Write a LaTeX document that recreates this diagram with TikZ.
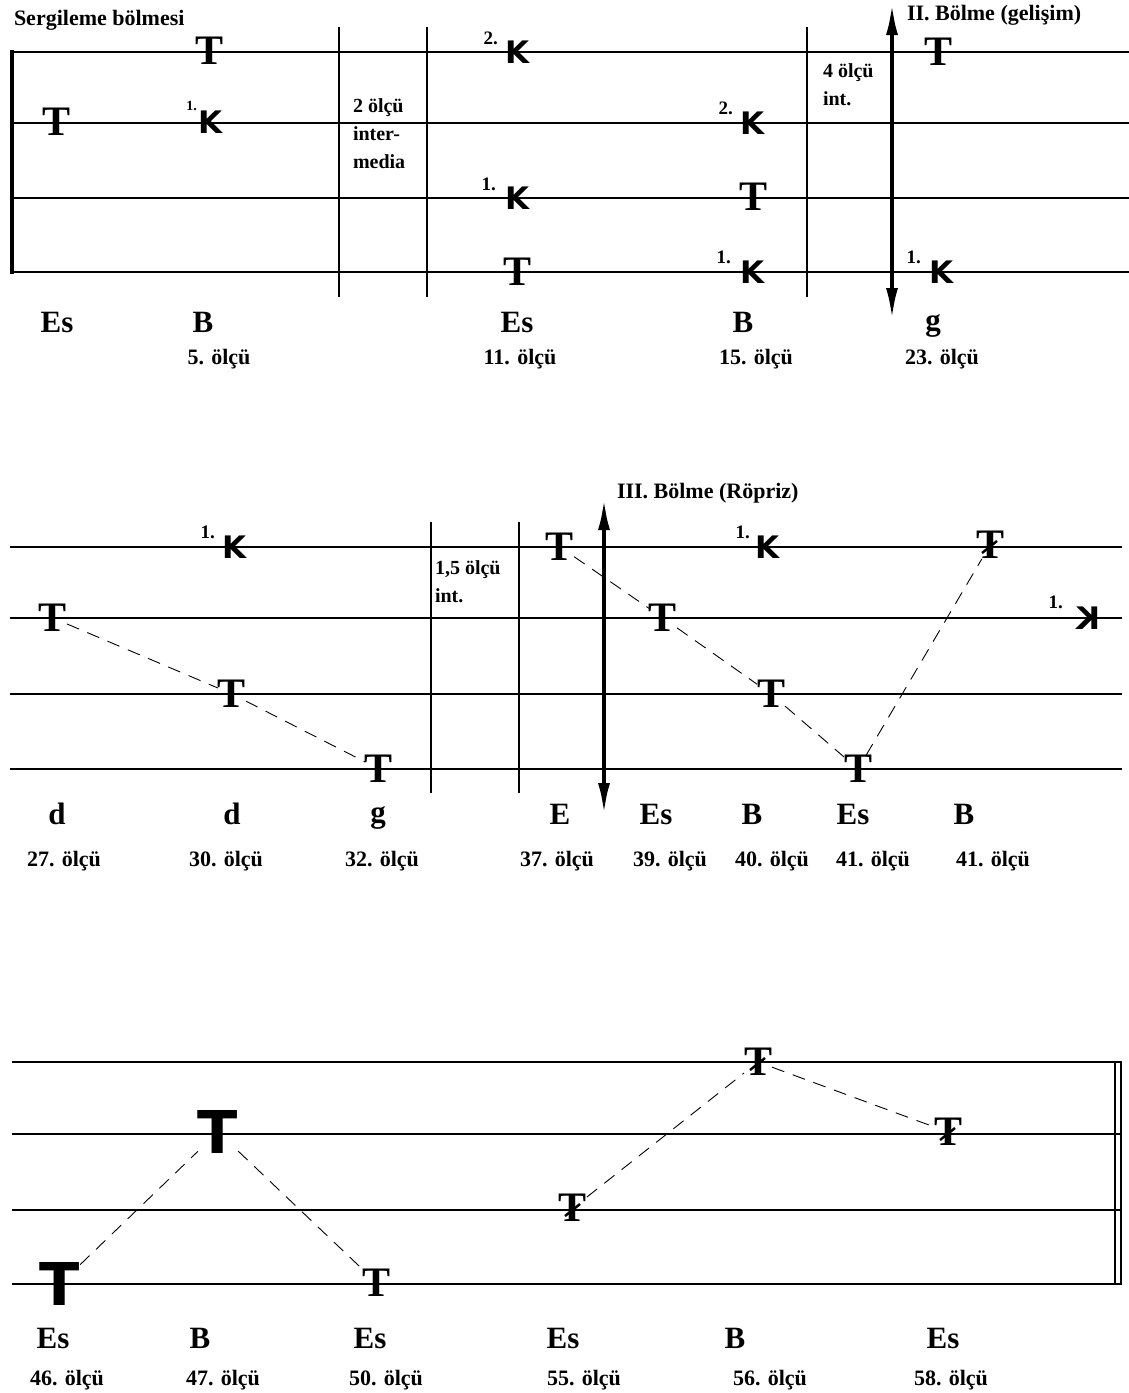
\documentclass[tikz,border=0pt]{standalone}
\usepackage{fontspec}
\setmainfont{Liberation Serif}
\setsansfont{Liberation Sans}
\newfontfamily\heavyfont{DejaVu Sans}
\usetikzlibrary{positioning,arrows.meta}

\begin{document}
\begin{tikzpicture}[x=1pt,y=-1pt,every node/.style={inner sep=0pt,outer sep=0pt},
				tone/.style={font=\fontsize{42}{42}\selectfont\bfseries},
				bigtone/.style={font=\heavyfont\fontsize{59}{59}\selectfont\bfseries},
				keyK/.style={font=\heavyfont\fontsize{31}{31}\selectfont\bfseries},
				ord/.style={font=\fontsize{19}{19}\selectfont\bfseries},
				tonal/.style={font=\fontsize{31}{31}\selectfont\bfseries,anchor=base},
				olcu/.style={font=\fontsize{22}{22}\selectfont\bfseries,anchor=base},
				remark/.style={font=\fontsize{20}{28}\selectfont\bfseries,align=left,anchor=north west},
				title/.style={font=\fontsize{22}{22}\selectfont\bfseries,anchor=base west},
				staff/.style={line width=1.4pt},
				vline/.style={line width=1.1pt},
				divide/.style={line width=4pt,{Latex[length=32pt,width=12pt]}-{Latex[length=32pt,width=12pt]}},
				link/.style={line width=0.9pt,dash pattern=on 13pt off 9pt},
				slash/.style={line width=2.4pt}]
				\useasboundingbox (0,0) rectangle (1129,1393);

				% staves
				\draw[staff] (12,52)   -- (1129,52);
				\draw[staff] (12,123)  -- (1129,123);
				\draw[staff] (12,198)  -- (1129,198);
				\draw[staff] (12,272)  -- (1129,272);
				\draw[staff] (10,547)  -- (1122,547);
				\draw[staff] (10,618)  -- (1122,618);
				\draw[staff] (10,694)  -- (1122,694);
				\draw[staff] (10,769)  -- (1122,769);
				\draw[staff] (12,1062) -- (1121,1062);
				\draw[staff] (12,1134) -- (1121,1134);
				\draw[staff] (12,1210) -- (1121,1210);
				\draw[staff] (12,1284) -- (1121,1284);
				\draw[line width=4pt] (12,50) -- (12,274);
				\draw[line width=1.5pt] (1115,1062) -- (1115,1284);
				\draw[line width=2.6pt] (1121,1061) -- (1121,1285);
				\draw[vline] (339,27) -- (339,297) (427,27) -- (427,297) (807,27) -- (807,297);
				\draw[vline] (431,522) -- (431,793) (519,522) -- (519,793);

				% section arrows
				\coordinate (UPA) at (892,3);
				\coordinate (DNA) at (892,320);
				\coordinate (UPB) at (604,498);
				\coordinate (DNB) at (604,815);
				\draw[divide] (DNA) -- (UPA);
				\draw[divide] (DNB) -- (UPB);

				\node (SB)   [title] at (14,25)  {Sergileme bölmesi};
				\node (DEV)  [title] at (907,20) {II. Bölme (gelişim)};
				\node (REC)  [title] at (617,498) {III. Bölme (Röpriz)};
				\node (INA)  [remark] at (353,99) {2 ölçü\\inter-\\media};
				\node (INB)  [remark] at (823,64) {4 ölçü\\int.};
				\node (INC)  [remark] at (435,561) {1,5 ölçü\\int.};

				% first row
				\node (T1)  [tone] at (57,122)  {T};
				\node (T2)  [tone] at (210,51)  {T};
				\node (K1)  [keyK] at (211,122) {K};
				\node (N1)  [ord,font=\fontsize{14}{14}\selectfont\bfseries,above left=0pt and 2pt of K1] {1.};
				\node (K2)  [keyK] at (518,52)  {K};
				\node (N2)  [ord,above left=-4pt and 8pt of K2] {2.};
				\node (K3)  [keyK] at (518,198) {K};
				\node (N3)  [ord,above left=-4pt and 10pt of K3] {1.};
				\node (T3)  [tone] at (518,272) {T};
				\node (K4)  [keyK] at (753,123) {K};
				\node (N4)  [ord,above left=-3pt and 8pt of K4] {2.};
				\node (T4)  [tone] at (753,197) {T};
				\node (K5)  [keyK] at (753,272) {K};
				\node (N5)  [ord,above left=-3pt and 10pt of K5] {1.};
				\node (T5)  [tone] at (938,52)  {T};
				\node (K6)  [keyK] at (942,272) {K};
				\node (N6)  [ord,above left=-3pt and 9pt of K6] {1.};

				\node (L1)  [tonal] at (57,332)  {Es};
				\node (L2)  [tonal] at (203,332) {B};
				\node (L3)  [tonal] at (517,332) {Es};
				\node (L4)  [tonal] at (743,332) {B};
				\node (L5)  [tonal] at (933,330) {g};
				\node (M1)  [olcu] at (219,364)  {5. ölçü};
				\node (M2)  [olcu] at (520,364)  {11. ölçü};
				\node (M3)  [olcu] at (756,364)  {15. ölçü};
				\node (M4)  [olcu] at (942,364)  {23. ölçü};

				% second row
				\node (K7)  [keyK] at (235,547) {K};
				\node (N7)  [ord,above left=-3pt and 8pt of K7] {1.};
				\node (T6)  [tone] at (53,618)  {T};
				\node (T7)  [tone] at (232,694) {T};
				\node (T8)  [tone] at (379,769) {T};
				\node (T9)  [tone] at (560,547) {T};
				\node (T10) [tone] at (663,618) {T};
				\node (K8)  [keyK] at (768,547) {K};
				\node (N8)  [ord,above left=-3pt and 6pt of K8] {1.};
				\node (T11) [tone] at (771,694) {T};
				\node (T12) [tone] at (858,769) {T};
				\node (TS1) [tone] at (990,545) {T};
				\node (K9)  [keyK] at (1088,618) {\reflectbox{K}};
				\node (N9)  [ord,above left=-2pt and 13pt of K9] {1.};
				\draw[slash] ([shift={(-8,8)}]TS1.center) -- ([shift={(7,-4)}]TS1.center);
				\draw[link] (T6) -- (T7) -- (T8);
				\draw[link] (T9) -- (T10) -- (T11) -- (T12) -- (TS1);

				\node (L6)  [tonal] at (57,824)  {d};
				\node (L7)  [tonal] at (232,824) {d};
				\node (L8)  [tonal] at (378,822) {g};
				\node (L9)  [tonal] at (560,824) {E};
				\node (L10) [tonal] at (656,824) {Es};
				\node (L11) [tonal] at (752,824) {B};
				\node (L12) [tonal] at (853,824) {Es};
				\node (L13) [tonal] at (964,824) {B};
				\node (M5)  [olcu] at (64,866)   {27. ölçü};
				\node (M6)  [olcu] at (226,866)  {30. ölçü};
				\node (M7)  [olcu] at (382,866)  {32. ölçü};
				\node (M8)  [olcu] at (557,866)  {37. ölçü};
				\node (M9)  [olcu] at (670,866)  {39. ölçü};
				\node (M10) [olcu] at (772,866)  {40. ölçü};
				\node (M11) [olcu] at (873,866)  {41. ölçü};
				\node (M12) [olcu] at (993,866)  {41. ölçü};

				% third row
				\node (BT1) [bigtone] at (60,1284)  {T};
				\node (BT2) [bigtone] at (218,1132) {T};
				\node (T13) [tone] at (377,1283)    {T};
				\node (TS2) [tone] at (573,1208)    {T};
				\node (TS3) [tone] at (758,1062)    {T};
				\node (TS4) [tone] at (948,1132)    {T};
				\draw[slash] ([shift={(-8,8)}]TS2.center) -- ([shift={(7,-4)}]TS2.center);
				\draw[slash] ([shift={(-8,8)}]TS3.center) -- ([shift={(7,-4)}]TS3.center);
				\draw[slash] ([shift={(-8,8)}]TS4.center) -- ([shift={(7,-4)}]TS4.center);
				\draw[link] (BT1) -- (BT2) -- (T13);
				\draw[link] (TS2) -- (TS3) -- (TS4);

				\node (L14) [tonal] at (53,1348)  {Es};
				\node (L15) [tonal] at (200,1348) {B};
				\node (L16) [tonal] at (370,1348) {Es};
				\node (L17) [tonal] at (563,1348) {Es};
				\node (L18) [tonal] at (735,1348) {B};
				\node (L19) [tonal] at (943,1348) {Es};
				\node (M13) [olcu] at (67,1385)   {46. ölçü};
				\node (M14) [olcu] at (223,1385)  {47. ölçü};
				\node (M15) [olcu] at (386,1385)  {50. ölçü};
				\node (M16) [olcu] at (584,1385)  {55. ölçü};
				\node (M17) [olcu] at (770,1385)  {56. ölçü};
				\node (M18) [olcu] at (951,1385)  {58. ölçü};
			\end{tikzpicture}
\end{document}
